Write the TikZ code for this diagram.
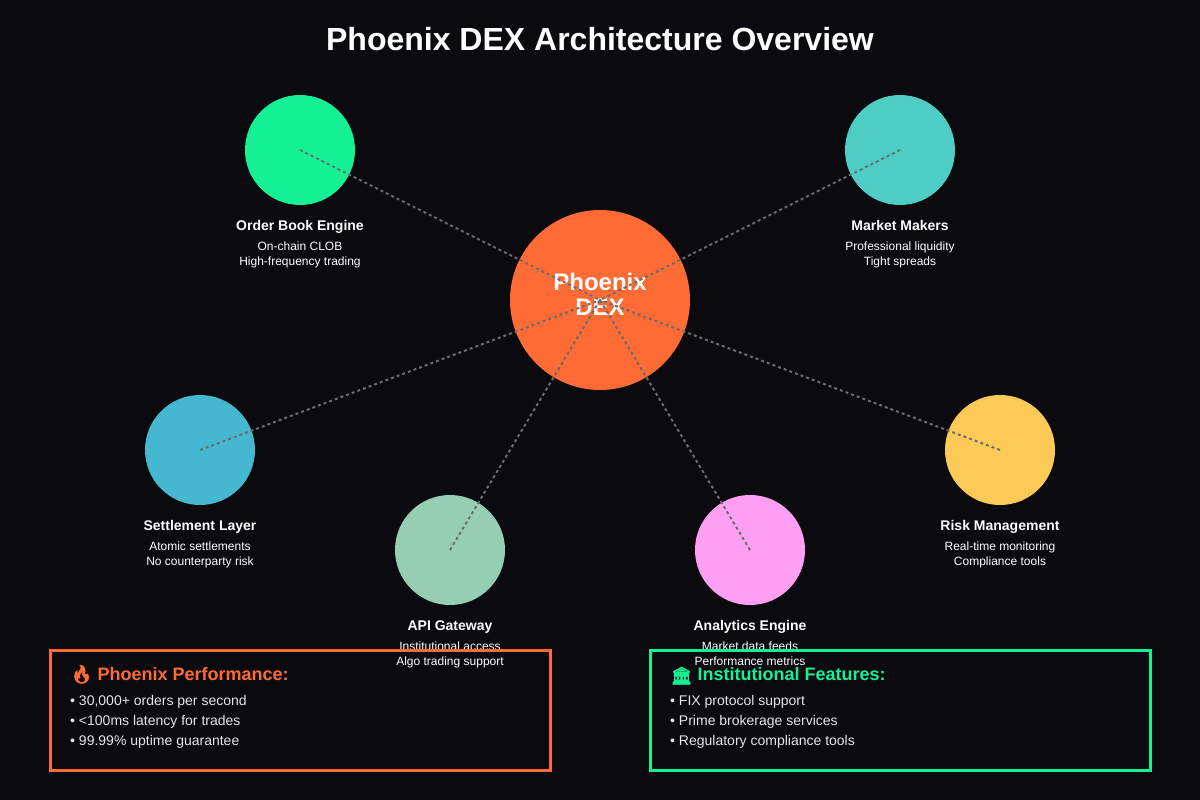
\documentclass[tikz,border=0pt]{standalone}
\usepackage{fontspec}
\setmainfont{Liberation Sans}
\newfontfamily\emojisolid{Noto Emoji}[FakeBold=3]
\definecolor{bgc}{HTML}{0A0A0F}
\definecolor{hubc}{HTML}{FF6B35}
\definecolor{greenc}{HTML}{14F195}
\definecolor{tealc}{HTML}{4ECDC4}
\definecolor{bluec}{HTML}{45B7D1}
\definecolor{sagec}{HTML}{96CEB4}
\definecolor{pinkc}{HTML}{FF9FF3}
\definecolor{yellowc}{HTML}{FECA57}
\definecolor{linec}{HTML}{6C6C6C}
\definecolor{itemc}{HTML}{E6E6E6}
\tikzset{
  x=1pt,y=-1pt,
  disc/.style={circle,draw=none,fill=#1,minimum size=110pt,inner sep=0pt},
  link/.style={draw=linec,line width=2pt,dash pattern=on 3pt off 3pt},
  hubtext/.style={text=white,anchor=base,inner sep=0pt,font=\fontsize{24}{24}\selectfont\bfseries},
  headtext/.style={text=white,anchor=base,font=\fontsize{14}{16}\selectfont\bfseries,inner sep=0pt},
  desctext/.style={text=white,anchor=base,font=\fontsize{12}{15}\selectfont,inner sep=0pt},
  panel/.style={draw=#1,line width=3pt,fill=none,rectangle,minimum width=500pt,minimum height=120pt,inner sep=0pt},
  paneltitle/.style={text=#1,anchor=base west,inner sep=0pt,font=\fontsize{18}{20}\selectfont\bfseries},
  item/.style={text=itemc,anchor=base west,inner sep=0pt,font=\fontsize{14}{16}\selectfont},
}
\begin{document}
\begin{tikzpicture}
\fill[bgc] (0,0) rectangle (1200,800);
\useasboundingbox (0,0) rectangle (1200,800);
\node[text=white,anchor=base,inner sep=0pt,font=\fontsize{32}{36}\selectfont\bfseries] (title) at (600,51) {Phoenix DEX Architecture Overview};
\node[circle,fill=hubc,draw=none,minimum size=180pt,inner sep=0pt] (hub) at (600,300) {};
\node[hubtext] (hubone) at (600,290) {Phoenix};
\node[hubtext] (hubtwo) at (600,315) {DEX};
\node[disc=greenc] (orders) at (300,150) {};
\node[disc=tealc] (makers) at (900,150) {};
\node[disc=bluec] (settle) at (200,450) {};
\node[disc=sagec] (api) at (450,550) {};
\node[disc=pinkc] (analytics) at (750,550) {};
\node[disc=yellowc] (risk) at (1000,450) {};
\foreach \n in {orders,makers,settle,api,analytics,risk}{\draw[link] (\n.center) -- (hub.center);}
\node[headtext] (h1) at (300,230) {Order Book Engine};
\node[desctext] (d1a) at (300,250) {On-chain CLOB};
\node[desctext] (d1b) at (300,265) {High-frequency trading};
\node[headtext] (h2) at (900,230) {Market Makers};
\node[desctext] (d2a) at (900,250) {Professional liquidity};
\node[desctext] (d2b) at (900,265) {Tight spreads};
\node[headtext] (h3) at (200,530) {Settlement Layer};
\node[desctext] (d3a) at (200,550) {Atomic settlements};
\node[desctext] (d3b) at (200,565) {No counterparty risk};
\node[headtext] (h4) at (450,630) {API Gateway};
\node[desctext] (d4a) at (450,650) {Institutional access};
\node[desctext] (d4b) at (450,665) {Algo trading support};
\node[headtext] (h5) at (750,630) {Analytics Engine};
\node[desctext] (d5a) at (750,650) {Market data feeds};
\node[desctext] (d5b) at (750,665) {Performance metrics};
\node[headtext] (h6) at (1000,530) {Risk Management};
\node[desctext] (d6a) at (1000,550) {Real-time monitoring};
\node[desctext] (d6b) at (1000,565) {Compliance tools};
\node[panel=hubc] (perf) at (300,710) {};
\node[panel=greenc] (inst) at (900,710) {};
\node[paneltitle=hubc] (pt) at (70,680) {\makebox[27.5pt][l]{\raisebox{-0.5pt}{\emojisolid\fontsize{18}{18}\selectfont 🔥}}Phoenix Performance:};
\node[item] (p1) at (70,705) {• 30,000+ orders per second};
\node[item] (p2) at (70,725) {• <100ms latency for trades};
\node[item] (p3) at (70,745) {• 99.99\% uptime guarantee};
\node[paneltitle=greenc] (it) at (670,680) {\makebox[27.5pt][l]{\hspace{0.5pt}\raisebox{-1.5pt}{\emojisolid\fontsize{17}{17}\selectfont 🏛}}Institutional Features:};
\node[item] (i1) at (670,705) {• FIX protocol support};
\node[item] (i2) at (670,725) {• Prime brokerage services};
\node[item] (i3) at (670,745) {• Regulatory compliance tools};
\end{tikzpicture}
\end{document}
